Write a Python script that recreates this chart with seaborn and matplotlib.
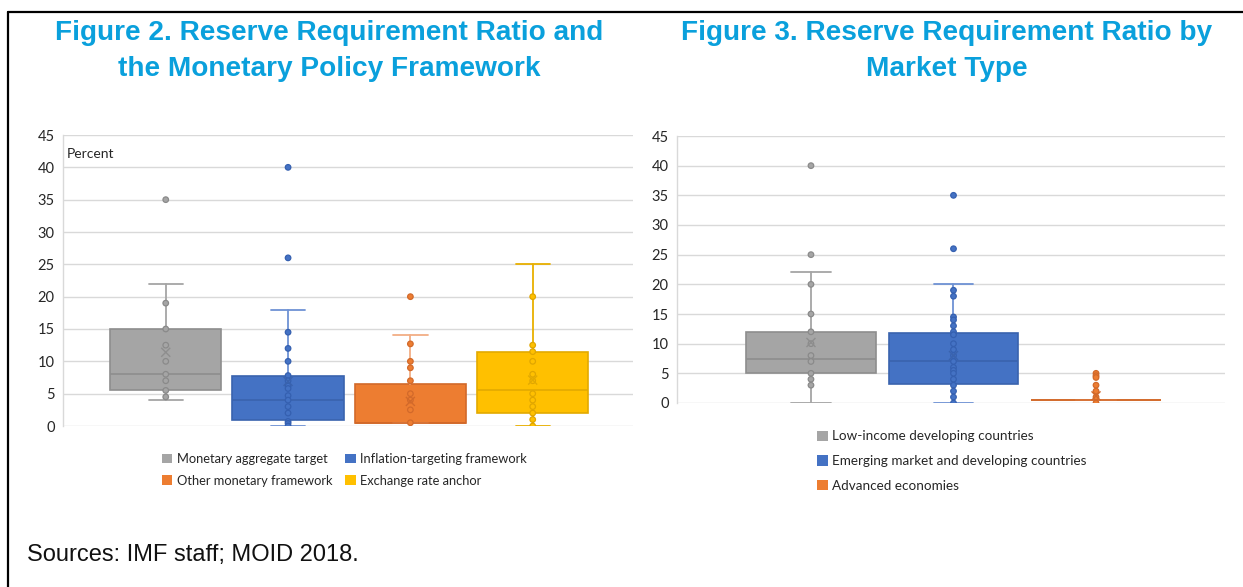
import numpy as np
import pandas as pd
import matplotlib
matplotlib.use("Agg")
import matplotlib.pyplot as plt
from matplotlib.patches import Patch
from matplotlib.lines import Line2D
import seaborn as sns

# ---- Figure 2: reserve requirement ratio by monetary policy framework ----
framework_names = ["Monetary aggregate target", "Inflation-targeting framework",
                   "Other monetary framework", "Exchange rate anchor"]
framework_points = [
    [35, 19, 15, 12.5, 10, 8, 7, 5.5, 4.5],
    [40, 26, 14.5, 12, 10, 7.8, 7, 6.2, 5.8, 4.7, 4, 3, 2, 0.7, 0.4, 0],
    [20, 12.7, 10, 9, 7, 5, 4, 2.5, 0.5],
    [20, 12.5, 11.5, 10, 8, 7, 5, 4, 3, 2, 1, 0],
]
framework_q1 = [5.5, 0.9, 0.5, 2.0]
framework_median = [8.0, 4.0, 0.5, 5.5]
framework_q3 = [15.0, 7.8, 6.5, 11.5]
framework_whislo = [4.0, 0.0, 0.5, 0.0]
framework_whishi = [22.0, 18.0, 14.0, 25.0]
framework_mean = [11.4, 6.9, 3.8, 7.1]

# ---- Figure 3: reserve requirement ratio by market type ----
market_names = ["Low-income developing countries",
                "Emerging market and developing countries",
                "Advanced economies"]
market_points = [
    [40, 25, 20, 15, 12, 10, 8, 7, 5, 4, 3],
    [35, 26, 19, 18, 14.5, 14, 13, 12, 11.5, 10, 9, 8, 7, 6, 5.5, 5, 4, 3, 2, 1, 0],
    [5, 4.6, 4.3, 3, 2, 1, 0],
]
market_q1 = [5.0, 3.2, 0.5]
market_median = [7.5, 7.0, 0.5]
market_q3 = [12.0, 11.8, 0.5]
market_whislo = [0.0, 0.0, 0.5]
market_whishi = [22.0, 20.0, 0.5]
market_mean = [10.2, 8.0, 1.2]

y_ticks = [0, 5, 10, 15, 20, 25, 30, 35, 40, 45]

# Office-style palette
fills = ["#A5A5A5", "#4472C4", "#ED7D31", "#FFC000"]
edges = ["#8E8E8E", "#3A63AE", "#D2692A", "#E3AA00"]
whisk = ["#A5A5A5", "#6E92D4", "#F2AE85", "#E8B000"]
dot_edges = ["#8A8A8A", "#3560B0", "#D2692A", "#E0A600"]

TITLE_BLUE = "#0AA0DC"
GRID = "#D9D9D9"
TEXT = "#262626"

sns.set_theme(style="white")
plt.rcParams["font.family"] = ["Lato", "DejaVu Sans"]

fig = plt.figure(figsize=(12.43, 5.87), dpi=100)
W, H = 1243, 587


def px_axes(x0, y0, x1, y1):
    return fig.add_axes([x0 / W, 1 - y1 / H, (x1 - x0) / W, (y1 - y0) / H])


def draw_panel(ax, names, points, q1, med, q3, lo, hi, mean, xlim):
    n = len(names)
    rows = [(names[i], v) for i in range(n) for v in points[i]]
    df = pd.DataFrame(rows, columns=["group", "value"])

    stats = []
    for i in range(n):
        stats.append(dict(q1=q1[i], med=med[i], q3=q3[i], whislo=lo[i],
                          whishi=hi[i], fliers=[], mean=mean[i]))
    bp = ax.bxp(stats, positions=list(range(n)), widths=0.91, patch_artist=True,
                showfliers=False, showmeans=False, manage_ticks=False,
                zorder=2)
    for i in range(n):
        bp["boxes"][i].set_facecolor(fills[i])
        bp["boxes"][i].set_edgecolor(edges[i])
        bp["boxes"][i].set_linewidth(1.2)
        bp["medians"][i].set_color(edges[i])
        bp["medians"][i].set_linewidth(1.2)
        for k in (2 * i, 2 * i + 1):
            bp["whiskers"][k].set_color(whisk[i])
            bp["whiskers"][k].set_linewidth(1.3)
            bp["caps"][k].set_color(whisk[i])
            bp["caps"][k].set_linewidth(1.3)
            bp["caps"][k].set_xdata([i - 0.14, i + 0.14])

    sns.stripplot(data=df, x="group", y="value", hue="group", order=names,
                  hue_order=names, palette=fills[:n], jitter=False, size=4.0,
                  linewidth=0.9, edgecolor="#666666", legend=False, ax=ax,
                  zorder=4)
    # darker rims on each group's points
    for i, coll in enumerate(ax.collections[-n:]):
        coll.set_edgecolor(dot_edges[i])

    ax.scatter(range(n), mean, marker="x", s=42, linewidths=1.0,
               c=[edges[i] for i in range(n)], zorder=5)

    ax.set_xlim(*xlim)
    ax.set_ylim(0, 45)
    ax.set_yticks(y_ticks)
    ax.set_xticks([])
    ax.set_xlabel("")
    ax.set_ylabel("")
    ax.grid(axis="y", color=GRID, linewidth=1.0, zorder=0)
    ax.set_axisbelow(True)
    for s in ("top", "right", "bottom"):
        ax.spines[s].set_visible(False)
    ax.spines["left"].set_color(GRID)
    ax.spines["left"].set_linewidth(1.0)
    ax.tick_params(axis="y", length=0, pad=6, labelsize=10.5, labelcolor=TEXT)


ax1 = px_axes(63, 135, 633, 426)
draw_panel(ax1, framework_names, framework_points, framework_q1,
           framework_median, framework_q3, framework_whislo, framework_whishi,
           framework_mean, (-0.84, 3.82))
ax1.text(4 / 570, 0.936, "Percent", transform=ax1.transAxes, fontsize=10,
         color=TEXT, va="center", ha="left")

ax2 = px_axes(677, 136, 1225, 403)
draw_panel(ax2, market_names, market_points, market_q1, market_median,
           market_q3, market_whislo, market_whishi, market_mean, (-0.94, 2.905))

# legends (two columns filled row by row)
leg_order = [0, 2, 1, 3]
h1 = [Patch(facecolor=fills[i], edgecolor="none") for i in leg_order]
fig.legend(h1, [framework_names[i] for i in leg_order], ncol=2, frameon=False,
           fontsize=9.3, loc="upper left", bbox_to_anchor=(153 / W, 1 - 444 / H),
           handlelength=0.8, handleheight=0.8, handletextpad=0.35,
           columnspacing=1.0, labelspacing=0.75, labelcolor=TEXT,
           borderpad=0.2)
h2 = [Patch(facecolor=fills[i], edgecolor="none") for i in range(3)]
fig.legend(h2, market_names, ncol=1, frameon=False, fontsize=9.7,
           loc="upper left", bbox_to_anchor=(808 / W, 1 - 421 / H),
           handlelength=0.8, handleheight=0.8, handletextpad=0.3,
           labelspacing=0.95, labelcolor=TEXT, borderpad=0.2)

# titles
tfont = dict(family=["Liberation Sans", "DejaVu Sans"], fontweight="bold",
             fontsize=20.2, color=TITLE_BLUE, ha="center", va="baseline")
fig.text(329 / W, 1 - 40 / H, "Figure 2. Reserve Requirement Ratio and", **tfont)
fig.text(329 / W, 1 - 76 / H, "the Monetary Policy Framework", **tfont)
fig.text(947 / W, 1 - 40 / H, "Figure 3. Reserve Requirement Ratio by", **tfont)
fig.text(947 / W, 1 - 76 / H, "Market Type", **tfont)

fig.text(27 / W, 1 - 555 / H, "Sources: IMF staff; MOID 2018.",
         family=["Liberation Sans", "DejaVu Sans"], fontsize=17,
         color="#111111", ha="left", va="center")

# page frame: top and left rules
fig.add_artist(Line2D([8 / W, 1.0], [1 - 12 / H, 1 - 12 / H], color="black",
                      linewidth=1.6, transform=fig.transFigure))
fig.add_artist(Line2D([8 / W, 8 / W], [1 - 12 / H, 0.0], color="black",
                      linewidth=1.6, transform=fig.transFigure))

fig.savefig("out.png", dpi=100, facecolor="white")
